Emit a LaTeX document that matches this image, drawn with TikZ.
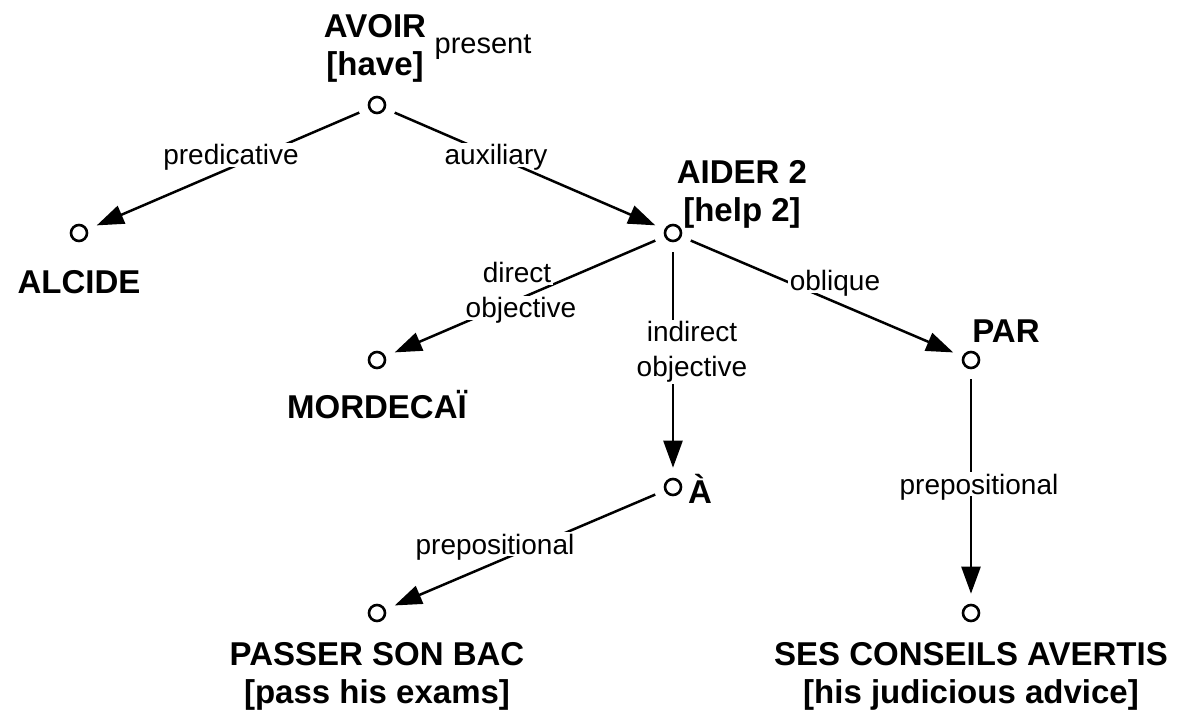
\documentclass[tikz,border=0pt]{standalone}
\usepackage{fontspec}
\setmainfont{Liberation Sans}
\usetikzlibrary{arrows.meta}

\tikzset{
  vertex/.style={circle, draw, line width=1.3pt, minimum size=8pt, inner sep=0pt},
  word/.style={font=\fontsize{16.5}{19}\selectfont\bfseries, inner sep=0pt, align=center},
  rel/.style={font=\fontsize{14}{17.5}\selectfont, fill=white, inner sep=0.8pt, text depth=0pt},
  link/.style={line width=1.25pt, shorten <=5pt, shorten >=5pt},
  dep/.style={link, -{Triangle[length=13.5pt, width=9.5pt]}}
}

\begin{document}
\begin{tikzpicture}[x=0.5pt, y=-0.5pt]
  \useasboundingbox (0,0) rectangle (1180,717);

  % tree vertices
  \node[vertex] (avoir)    at (377,105) {};
  \node[vertex] (alcide)   at (79,233)  {};
  \node[vertex] (aider)    at (673,233) {};
  \node[vertex] (mordecai) at (377,360) {};
  \node[vertex] (par)      at (971,360) {};
  \node[vertex] (a)        at (673,487) {};
  \node[vertex] (passer)   at (377,613) {};
  \node[vertex] (conseils) at (971,613) {};

  % lexeme labels
  \node[word] (tavoir) at (375,48) {AVOIR\\{[}have{]}};
  \node[font=\fontsize{14.5}{17}\selectfont, anchor=base, inner sep=0pt] (tpresent) at (483,54) {present};
  \node[word] (taider) at (742,194) {AIDER 2\\{[}help 2{]}};
  \node[word, anchor=base] (talcide) at (79,293) {ALCIDE};
  \node[word, anchor=base] (tmordecai) at (377,418) {MORDECAÏ};
  \node[word, anchor=base] (tpar) at (1006,343) {PAR};
  \node[word, anchor=base] (ta) at (700,503) {À};
  \node[word] (tpasser) at (377,676) {PASSER SON BAC\\{[}pass his exams{]}};
  \node[word] (tconseils) at (971,676) {SES CONSEILS AVERTIS\\{[}his judicious advice{]}};

  % dependency arcs
  \draw[dep] (avoir) -- (alcide);
  \draw[dep] (avoir) -- (aider);
  \draw[dep] (aider) -- (mordecai);
  \draw[dep] (aider) -- (a);
  \draw[dep] (aider) -- (par);
  \draw[dep] (a) -- (passer);
  \draw[dep] (par) -- (conseils);

  % relation names
  \node[rel, anchor=base] (lpred) at (231,165) {predicative};
  \node[rel, anchor=base] (laux) at (496,165) {auxiliary};
  \node[rel, anchor=base] (ldobja) at (517,283) {direct};
  \node[rel, anchor=base] (ldobjb) at (521,318) {objective};
  \node[rel, align=center, text depth=3pt] (liobj) at (692,352) {indirect\\objective};
  \node[rel, anchor=base] (lobl) at (835,291) {oblique};
  \node[rel, anchor=base] (lprep1) at (495,554) {prepositional};
  \node[rel, anchor=base] (lprep2) at (979,494) {prepositional};
\end{tikzpicture}
\end{document}
